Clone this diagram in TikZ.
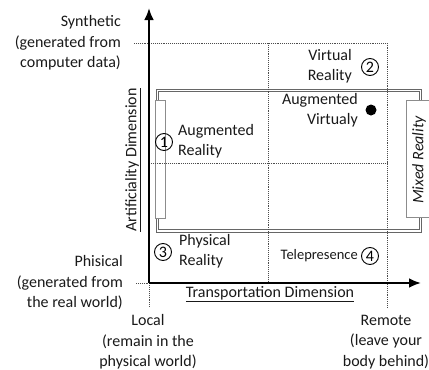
\documentclass[tikz,border=0pt]{standalone}
\usepackage{fontspec}
\setmainfont{Carlito}
\usepackage{tikz}
\usetikzlibrary{arrows.meta}
\tikzstyle{axis}=[line width=2.4pt, -{Latex[length=12pt,width=10pt]}]
\tikzstyle{grid}=[densely dotted, line width=0.9pt, draw=black!70]
\tikzstyle{zone}=[double=white, double distance=1.6pt, line width=0.9pt, draw=black!60]
\tikzstyle{side}=[draw=black!45, line width=0.7pt, fill=white]
\tikzstyle{lbl}=[inner sep=0pt, font=\fontsize{16}{20.5}\selectfont, text=black!90]
\tikzstyle{num}=[circle, draw, line width=0.9pt, inner sep=0pt, minimum size=17pt, font=\fontsize{16}{16}\selectfont]
\tikzstyle{dim}=[inner sep=0pt, font=\fontsize{16}{18}\selectfont, text=black!90]

\begin{document}
\begin{tikzpicture}[x=1pt, y=-1pt]
	\useasboundingbox (0,0) rectangle (429,370);
	% grid of the four quadrants
	\coordinate (o) at (149,283);
	\coordinate (ytop) at (149,8);
	\coordinate (xend) at (421,283);
	\coordinate (synL) at (134,43);
	\coordinate (synR) at (387,43);
	\coordinate (midL) at (149,163);
	\coordinate (midR) at (387,163);
	\coordinate (phyL) at (136,283);
	\coordinate (locB) at (149,307);
	\coordinate (remB) at (387,308);
	\coordinate (c1) at (268,43);
	\coordinate (c2) at (268,283);
	\draw[zone] (157.5,90.5) rectangle (420.5,231);
	\draw[side] (155,100) rectangle (165,218);
	\draw[side] (406,100) rectangle (433,217);
	\draw[grid] (synL) -- (synR) -- (remB);
	\draw[grid] (midL) -- (midR);
	\draw[grid] (c1) -- (c2);
	\draw[grid] (phyL) -- (o) -- (locB);
	\draw[axis] (o) -- (ytop);
	\draw[axis] (o) -- (xend);
	% labels
	\draw (121,43) node[lbl, anchor=east, align=right] (syn) {Synthetic\\(generated from\\computer data)};
	\draw (123,283) node[lbl, anchor=east, align=right] (phy) {Phisical\\(generated from\\the real world)};
	\draw (148,342) node[lbl, align=center] (loc) {Local\\(remain in the\\physical world)};
	\draw (386,342) node[lbl, align=center] (rem) {Remote\\(leave your\\body behind)};
	\draw (133,160) node[dim, rotate=90] (ydim) {\underline{Artificiality Dimension}};
	\draw (270,294) node[dim] (xdim) {\underline{Transportation Dimension}};
	\draw (419,160) node[dim, rotate=90] (mr) {\itshape Mixed Reality};
	\draw (164,142) node[num] (n1) {1};
	\draw (178,141) node[lbl, anchor=west, align=left] (ar) {Augmented\\Reality};
	\draw (370,67) node[num] (n2) {2};
	\draw (352,66) node[lbl, anchor=east, align=right] (vr) {Virtual\\Reality};
	\draw (358,110) node[lbl, anchor=east, align=right] (av) {Augmented\\Virtualy};
	\draw (371,110) node[circle, fill, inner sep=0pt, minimum size=11pt] (dot) {};
	\draw (163,252) node[num] (n3) {3};
	\draw (179,251) node[lbl, anchor=west, align=left] (pr) {Physical\\Reality};
	\draw (370,256) node[num] (n4) {4};
	\draw (358,256) node[lbl, anchor=east, font=\fontsize{14.5}{16}\selectfont] (tp) {Telepresence};
\end{tikzpicture}
\end{document}
